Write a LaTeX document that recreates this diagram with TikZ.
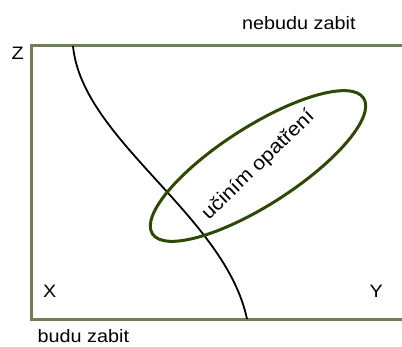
\documentclass[tikz,border=0pt]{standalone}
\usepackage{fontspec}
\setmainfont{Liberation Sans}[FakeStretch=1.1]
\definecolor{frameol}{RGB}{112,128,82}
\definecolor{ellgreen}{RGB}{46,72,6}
\begin{document}
\begin{tikzpicture}[x=1pt,y=-1pt,
  lbl/.style={font=\fontsize{18}{20}\selectfont, inner sep=0pt, anchor=base west},
  frameline/.style={draw=frameol, line width=3pt, line join=miter},
  boundary/.style={draw=black, line width=1.8pt},
  region/.style={draw=ellgreen, line width=3pt}]
\useasboundingbox (0,0) rectangle (402,347);
\coordinate (tr) at (402,46);
\coordinate (tl) at (31.5,46);
\coordinate (bl) at (31.5,319.5);
\coordinate (br) at (402,319.5);
\path[frameline] (tr) -- (tl) -- (bl) -- (br);
\coordinate (cs) at (73,46);
\coordinate (ce) at (247,319);
\draw[boundary] (cs) .. controls (82,140) and (225,215) .. (ce);
\draw[region, rotate around={32.7:(258,166)}] (258,166) ellipse [x radius=125.5, y radius=39];
\node[lbl, font=\fontsize{19.5}{21}\selectfont, anchor=base, rotate=44] (op) at (262,169) {učiním opatření};
\node[lbl] (nz) at (242,30) {nebudu zabit};
\node[lbl] (z) at (11.5,60) {Z};
\node[lbl] (x) at (43,298) {X};
\node[lbl] (y) at (369.5,298) {Y};
\node[lbl] (bz) at (37.5,343) {budu zabit};
\end{tikzpicture}
\end{document}
